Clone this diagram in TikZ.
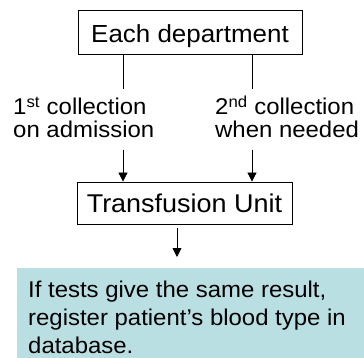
\documentclass[tikz,border=0pt]{standalone}
\usepackage{fontspec}
\usepackage{graphicx}
\setmainfont{Liberation Sans}
\usetikzlibrary{arrows.meta}
\definecolor{noteteal}{RGB}{186,223,227}
\newcommand{\hs}[1]{\scalebox{1.05}[1]{#1}}
\tikzset{
  boxnode/.style={draw=black, line width=0.8pt, inner xsep=0pt, inner ysep=0pt},
  conn/.style={draw=black, line width=0.8pt},
  arr/.style={conn, -{Triangle[width=9pt,length=9pt]}},
  lbl/.style={anchor=base west, inner sep=0pt, font=\fontsize{22.8}{27}\selectfont},
  notetxt/.style={anchor=base west, inner sep=0pt, font=\fontsize{22.8}{28}\selectfont},
}
\begin{document}
\begin{tikzpicture}[x=1pt, y=-1pt]
\useasboundingbox (0,0) rectangle (364,358);
% top box
\node[boxnode, minimum width=224pt, text height=33pt, text depth=11pt, anchor=base,
      font=\fontsize{24.7}{30}\selectfont] (dept) at (190,43) {\hs{Each department}};
% labels
\node[lbl] (l1a) at (13,115) {\hs{1\textsuperscript{st} collection}};
\node[lbl] (l1b) at (13,138) {\hs{on admission}};
\node[lbl] (l2a) at (215,115) {\hs{2\textsuperscript{nd} collection}};
\node[lbl] (l2b) at (215,138) {\hs{when needed}};
% transfusion box
\node[boxnode, minimum width=215pt, text height=30.7pt, text depth=11.3pt, anchor=base,
      font=\fontsize{25.7}{30}\selectfont] (tu) at (184.5,212.7) {\hs{Transfusion Unit}};
% note box
\node[fill=noteteal, inner sep=0pt, minimum width=347pt, minimum height=90pt, anchor=north west] (note) at (17,268) {};
\node[notetxt] (n1) at (28,297.7) {\hs{If tests give the same result,}};
\node[notetxt] (n2) at (28,325.5) {\hs{register patient’s blood type in}};
\node[notetxt] (n3) at (28,353.3) {\hs{database.}};
% connector coordinates
\coordinate (c1) at (123,89);
\coordinate (c2) at (252,89);
\coordinate (s1) at (123,150);
\coordinate (s2) at (252,150);
\coordinate (s3) at (177,228);
\coordinate (e3) at (177,257);
% connectors
\draw[conn] (dept.south -| c1) -- (c1);
\draw[conn] (dept.south -| c2) -- (c2);
\draw[arr] (s1) -- (tu.north -| s1);
\draw[arr] (s2) -- (tu.north -| s2);
\draw[arr] (s3) -- (e3);
\end{tikzpicture}
\end{document}
